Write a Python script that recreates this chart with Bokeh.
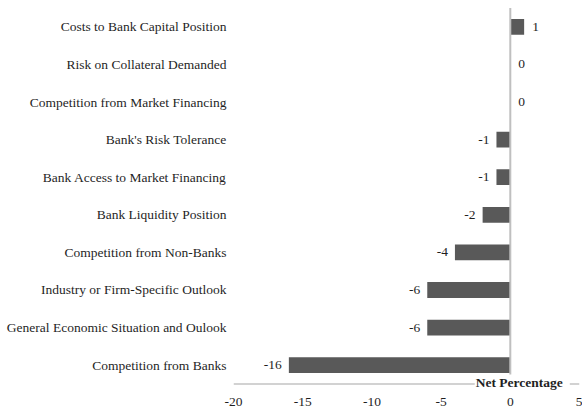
from bokeh.plotting import figure
from bokeh.models import FactorRange, Range1d, Label, ColumnDataSource, FixedTicker
from bokeh.embed import file_html
from bokeh.resources import INLINE

categories = [
    "Costs to Bank Capital Position",
    "Risk on Collateral Demanded",
    "Competition from Market Financing",
    "Bank's Risk Tolerance",
    "Bank Access to Market Financing",
    "Bank Liquidity Position",
    "Competition from Non-Banks",
    "Industry or Firm-Specific Outlook",
    "General Economic Situation and Oulook",
    "Competition from Banks",
]
values = [1, 0, 0, -1, -1, -2, -4, -6, -6, -16]
x_ticks = [-20, -15, -10, -5, 0, 5]
axis_title = "Net Percentage"

FONT = "Liberation Serif"
TEXT = "#1f1f1f"
FS = "13.5px"

factors = list(reversed(categories))

p = figure(
    width=582, height=408,
    y_range=FactorRange(*factors, range_padding=0.2, range_padding_units="absolute"),
    x_range=Range1d(x_ticks[0], x_ticks[-1]),
    output_backend="svg", toolbar_location=None,
    min_border_left=233, min_border_right=3, min_border_top=0, min_border_bottom=17,
)
p.outline_line_color = None
p.xgrid.visible = False
p.ygrid.visible = False
p.background_fill_color = "white"
p.border_fill_color = "white"

src = ColumnDataSource(dict(cat=categories, val=values))
p.hbar(y="cat", left=0, right="val", height=0.42, source=src,
       fill_color="#595959", line_color=None)

# value axis line along the bottom of the category area
p.segment(x0=[x_ticks[0]], y0=[0], x1=[x_ticks[-1]], y1=[0],
          line_color="#a6a6a6", line_width=1.2)

# category axis line at x = 0 (spans the category area only)
p.segment(x0=[0], y0=[0], x1=[0], y1=[len(categories)],
          line_color="#bfbfbf", line_width=2)

pos = [(c, v) for c, v in zip(categories, values) if v >= 0]
neg = [(c, v) for c, v in zip(categories, values) if v < 0]
p.text(x=[v for c, v in pos], y=[c for c, v in pos], text=[str(v) for c, v in pos],
       x_offset=8, text_align="left", text_baseline="middle",
       text_font=FONT, text_font_size=FS, text_color=TEXT)
p.text(x=[v for c, v in neg], y=[c for c, v in neg], text=[str(v) for c, v in neg],
       x_offset=-7, text_align="right", text_baseline="middle",
       text_font=FONT, text_font_size=FS, text_color=TEXT)

# y axis
p.yaxis.axis_line_color = None
p.yaxis.major_tick_line_color = None
p.yaxis.minor_tick_line_color = None
p.yaxis.major_tick_out = 0
p.yaxis.major_tick_in = 0
p.yaxis.major_label_standoff = 7
p.yaxis.major_label_text_font = FONT
p.yaxis.major_label_text_font_size = FS
p.yaxis.major_label_text_color = TEXT

# x axis (labels only; its line is drawn above)
p.xaxis.ticker = FixedTicker(ticks=x_ticks)
p.xaxis.major_label_overrides = {t: str(t) for t in x_ticks}
p.xaxis.axis_line_color = None
p.xaxis.major_tick_line_color = None
p.xaxis.minor_tick_line_color = None
p.xaxis.major_tick_out = 0
p.xaxis.major_tick_in = 0
p.xaxis.major_label_standoff = 6
p.xaxis.major_label_text_font = FONT
p.xaxis.major_label_text_font_size = FS
p.xaxis.major_label_text_color = TEXT

p.add_layout(Label(x=4.3, y=0, y_offset=-2, text=axis_title, text_align="right",
                   text_baseline="middle",
                   text_font=FONT, text_font_size=FS, text_font_style="bold",
                   text_color=TEXT, background_fill_color="white", padding=(1, 7, 1, 7),
                   level="overlay"))

open("out.html", "w").write(file_html(p, INLINE))
